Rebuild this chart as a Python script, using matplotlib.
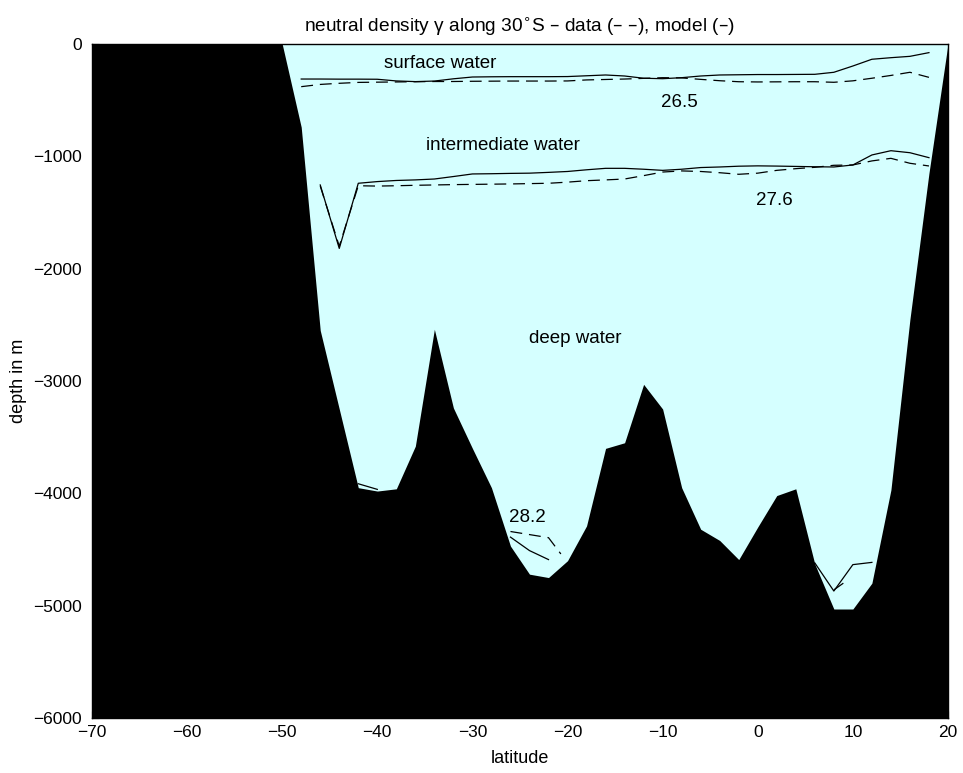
import matplotlib.pyplot as plt

plt.rcParams['font.family'] = ['Liberation Sans', 'DejaVu Sans']

# bottom topography along 30S
lat_bot = [-70, -50, -48, -46, -44, -42, -40, -38, -36, -34, -32, -30, -28, -26,
           -24, -22, -20, -18, -16, -14, -12, -10, -8, -6, -4, -2, 0, 2, 4, 6,
           8, 10, 12, 14, 16, 18, 20]
depth_bot = [0, 0, -740, -2550, -3250, -3950, -3980, -3960, -3580, -2540, -3240,
             -3600, -3950, -4470, -4720, -4750, -4600, -4290, -3600, -3550, -3030,
             -3250, -3950, -4320, -4420, -4590, -4300, -4020, -3960, -4630, -5030,
             -5030, -4800, -3970, -2450, -1150, 0]

# gamma = 26.5 surface
lat_s = [-48, -46, -44, -42, -40, -38, -36, -34, -32, -30, -28, -26, -24, -22, -20,
         -18, -16, -14, -12, -10, -8, -6, -4, -2, 0, 2, 4, 6, 8, 10, 12, 14, 16, 18]
model_s = [-312, -312, -313, -313, -314, -329, -335, -330, -310, -294, -292, -291,
           -291, -291, -290, -283, -276, -285, -305, -309, -300, -285, -276, -274,
           -272, -272, -271, -270, -252, -196, -136, -122, -110, -77]
data_s = [-380, -360, -350, -342, -340, -338, -336, -334, -334, -332, -331, -330,
          -330, -330, -329, -320, -316, -312, -306, -300, -302, -315, -327, -336,
          -338, -337, -336, -336, -341, -328, -305, -280, -252, -297]

# gamma = 27.6 surface
lat_i = [-46, -44, -42, -40, -38, -36, -34, -32, -30, -28, -26, -24, -22, -20,
         -18, -16, -14, -12, -10, -8, -6, -4, -2, 0, 2, 4, 6, 8, 10, 12, 14, 16, 18]
model_i = [-1255, -1820, -1240, -1225, -1215, -1210, -1202, -1180, -1157, -1155,
           -1152, -1150, -1143, -1135, -1120, -1107, -1107, -1115, -1125, -1115,
           -1100, -1095, -1088, -1085, -1087, -1090, -1093, -1095, -1077, -988,
           -950, -968, -1012]
data_i = [-1265, -1800, -1262, -1265, -1262, -1258, -1255, -1252, -1250, -1248,
          -1246, -1243, -1240, -1230, -1217, -1210, -1202, -1172, -1140, -1130,
          -1135, -1146, -1160, -1150, -1125, -1110, -1098, -1080, -1077, -1041,
          -1018, -1062, -1086]

# gamma = 28.2 pieces near the bottom
lat_d1 = [-42, -40]
model_d1 = [-3915, -3965]
lat_d2 = [-26, -24, -22]
model_d2 = [-4390, -4510, -4590]
lat_d2_obs = [-26, -22, -20.7]
data_d2 = [-4340, -4395, -4540]
lat_d3 = [6, 8, 10, 12]
model_d3 = [-4620, -4870, -4635, -4615]
lat_d3_obs = [8, 9]
data_d3 = [-4860, -4800]

fig = plt.figure(figsize=(9.63, 7.73), dpi=100)
ax = fig.add_axes([0.0955, 0.0712, 0.8889, 0.8719])
ax.set_facecolor('black')
ax.fill_between(lat_bot, depth_bot, 0, color='#d5ffff', lw=0)

dash = (0, (9.5, 5.5))
lw = 0.9
ax.plot(lat_s, model_s, 'k-', lw=lw)
ax.plot(lat_s, data_s, color='k', ls=dash, lw=lw)
ax.plot(lat_i, model_i, 'k-', lw=lw)
ax.plot(lat_i, data_i, color='k', ls=dash, lw=lw)
ax.plot(lat_d1, model_d1, 'k-', lw=lw)
ax.plot(lat_d2, model_d2, 'k-', lw=lw)
ax.plot(lat_d2_obs, data_d2, color='k', ls=dash, lw=lw)
ax.plot(lat_d3, model_d3, 'k-', lw=lw)
ax.plot(lat_d3_obs, data_d3, color='k', ls=dash, lw=lw)

fs = 13.5
ax.text(-33.4, -170, 'surface water', ha='center', va='center', fontsize=fs)
ax.text(-8.2, -520, '26.5', ha='center', va='center', fontsize=fs)
ax.text(-26.8, -905, 'intermediate water', ha='center', va='center', fontsize=fs)
ax.text(1.8, -1389, '27.6', ha='center', va='center', fontsize=fs)
ax.text(-19.2, -2620, 'deep water', ha='center', va='center', fontsize=fs)
ax.text(-24.2, -4211, '28.2', ha='center', va='center', fontsize=fs)

ax.set_xlim(-70, 20)
ax.set_ylim(-6000, 0)
ax.set_xticks(range(-70, 21, 10))
ax.set_yticks(range(-6000, 1, 1000))
ax.set_xticklabels(['\u221270', '\u221260', '\u221250', '\u221240', '\u221230',
                    '\u221220', '\u221210', '0', '10', '20'])
ax.set_yticklabels(['\u22126000', '\u22125000', '\u22124000', '\u22123000',
                    '\u22122000', '\u22121000', '0'])
ax.tick_params(direction='in', length=5, labelsize=12.5, color='black')
ax.tick_params(axis='x', pad=5)
ax.tick_params(axis='y', pad=7)
for s in ax.spines.values():
    s.set_linewidth(1.0)

ax.set_xlabel('latitude', fontsize=13, labelpad=7)
ax.set_ylabel('depth in m', fontsize=13, labelpad=5)
ax.set_title('neutral density \u03b3 along 30$^{\\circ}$S \u2013 data (\u2013 \u2013), model (\u2013)',
             fontsize=13.8, pad=9)

fig.savefig('out.png', dpi=100, facecolor='white')
